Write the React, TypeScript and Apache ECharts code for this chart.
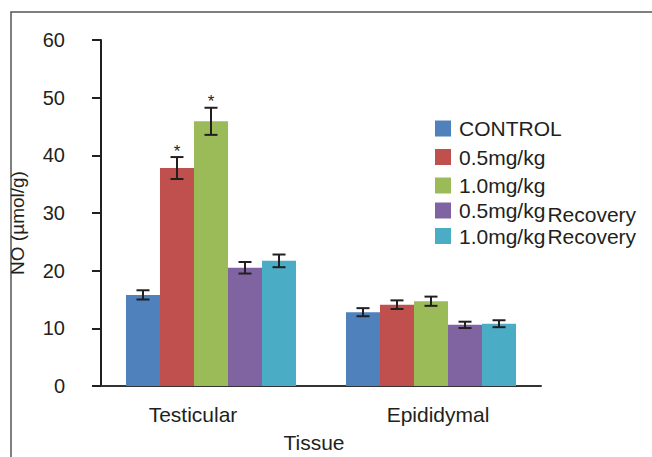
import React, { useEffect, useRef } from "react";
import * as echarts from "echarts";

const categories = ["Testicular", "Epididymal"];
const seriesNames = ["CONTROL", "0.5mg/kg", "1.0mg/kg", "0.5mg/kg Recovery", "1.0mg/kg Recovery"];
const controlValues = [15.8, 12.8];
const controlErrors = [0.8, 0.7];
const dose05Values = [37.8, 14.1];
const dose05Errors = [1.9, 0.75];
const dose10Values = [45.9, 14.7];
const dose10Errors = [2.35, 0.8];
const recovery05Values = [20.5, 10.6];
const recovery05Errors = [1.0, 0.55];
const recovery10Values = [21.7, 10.8];
const recovery10Errors = [1.1, 0.6];
const controlSig = ["", ""];
const dose05Sig = ["*", ""];
const dose10Sig = ["*", ""];
const recovery05Sig = ["", ""];
const recovery10Sig = ["", ""];
const yTicks = [0, 10, 20, 30, 40, 50, 60];

const colors = ["#4F81BD", "#C0504D", "#9BBB59", "#8064A2", "#4BACC6"];
const FONT = "'Liberation Sans', Arial, sans-serif";
const TEXT = "#231f20";
const CAT_GAP = 0.227;

export default function App() {
  const ref = useRef<HTMLDivElement>(null);
  useEffect(() => {
    if (!ref.current) return;
    const chart = echarts.init(ref.current, null, { renderer: "svg" });
    const values = [controlValues, dose05Values, dose10Values, recovery05Values, recovery10Values];
    const errors = [controlErrors, dose05Errors, dose10Errors, recovery05Errors, recovery10Errors];
    const sigs = [controlSig, dose05Sig, dose10Sig, recovery05Sig, recovery10Sig];
    const n = values.length;

    const barSeries = values.map((vals, i) => ({
      name: seriesNames[i],
      type: "bar",
      data: vals,
      barGap: "0%",
      barCategoryGap: CAT_GAP * 100 + "%",
      itemStyle: { color: colors[i] },
    }));

    const errSeries = values.map((vals, i) => ({
      type: "custom",
      name: seriesNames[i] + " err",
      z: 10,
      data: vals.map((v, k) => [k, v - errors[i][k], v + errors[i][k], sigs[i][k]]),
      renderItem: (params: any, api: any) => {
        const cat = api.value(0);
        const lo = api.coord([cat, api.value(1)]);
        const hi = api.coord([cat, api.value(2)]);
        const band = api.size([1, 0])[0];
        const bw = (band * (1 - CAT_GAP)) / n;
        const x = lo[0] + (i - (n - 1) / 2) * bw;
        const cap = 6.5;
        const style = { stroke: TEXT, lineWidth: 2 };
        const children: any[] = [
          { type: "line", shape: { x1: x, y1: hi[1], x2: x, y2: lo[1] }, style },
          { type: "line", shape: { x1: x - cap, y1: hi[1], x2: x + cap, y2: hi[1] }, style },
          { type: "line", shape: { x1: x - cap, y1: lo[1], x2: x + cap, y2: lo[1] }, style },
        ];
        const s = sigs[i][cat];
        if (s) {
          children.push({
            type: "text",
            style: {
              text: s,
              x: x,
              y: hi[1] - 6,
              align: "center",
              verticalAlign: "middle",
              fill: TEXT,
              font: "17px " + FONT,
            },
          });
        }
        return { type: "group", children };
      },
      tooltip: { show: false },
    }));

    const legendText = {
      fontFamily: FONT,
      fontSize: 21,
      lineHeight: 21,
      color: TEXT,
      padding: [0, 0, 0, 3],
      rich: {
        r: { fontFamily: FONT, fontSize: 21, lineHeight: 21, color: TEXT, padding: [8, 0, 0, 2] },
        r2: { fontFamily: FONT, fontSize: 21, lineHeight: 21, color: TEXT, padding: [1, 0, 0, 2] },
      },
    };

    chart.setOption({
      animation: false,
      backgroundColor: "#ffffff",
      textStyle: { fontFamily: FONT },
      graphic: [
        {
          type: "rect",
          shape: { x: 11, y: 12, width: 700, height: 500 },
          style: { fill: "none", stroke: "#555555", lineWidth: 1.5 },
          silent: true,
        },
      ],
      grid: {
        left: 101,
        right: 111,
        top: 40,
        bottom: 71,
        containLabel: false,
        outerBoundsMode: "none",
      },
      legend: [
        {
          data: seriesNames.slice(0, 3),
          orient: "vertical",
          left: 430,
          top: 113,
          itemWidth: 16,
          itemHeight: 16,
          itemGap: 7.5,
          icon: "rect",
          textStyle: legendText,
        },
        {
          data: seriesNames.slice(3),
          orient: "vertical",
          left: 430,
          top: 191,
          itemWidth: 16,
          itemHeight: 16,
          itemGap: 0,
          icon: "rect",
          textStyle: legendText,
          formatter: (name: string) =>
            name.startsWith("0.5")
              ? name.replace(" Recovery", "{r|Recovery}")
              : name.replace(" Recovery", "{r2|Recovery}"),
        },
      ],
      xAxis: {
        type: "category",
        data: categories,
        name: "Tissue",
        nameLocation: "middle",
        nameGap: 46,
        nameTextStyle: { fontFamily: FONT, fontSize: 21, color: TEXT, padding: [0, 14, 0, 0] },
        axisLine: { lineStyle: { color: "#333333", width: 2 } },
        axisTick: { show: false },
        axisLabel: {
          margin: 18,
          fontFamily: FONT,
          fontSize: 21,
          color: TEXT,
          formatter: (v: string) => (v === "Testicular" ? "{t|" + v + "}" : "{e|" + v + "}"),
          rich: {
            t: { fontFamily: FONT, fontSize: 21, color: TEXT, padding: [0, 36, 0, 0] },
            e: { fontFamily: FONT, fontSize: 21, color: TEXT, padding: [0, 0, 0, 14] },
          },
        },
      },
      yAxis: {
        type: "value",
        min: yTicks[0],
        max: yTicks[yTicks.length - 1],
        interval: 10,
        name: "NO (µmol/g)",
        nameLocation: "middle",
        nameRotate: 90,
        nameGap: 74,
        nameTextStyle: { fontFamily: FONT, fontSize: 19, color: TEXT, padding: [0, 20, 0, 0] },
        axisLine: { show: true, lineStyle: { color: TEXT, width: 2 } },
        axisTick: { show: true, length: 9, lineStyle: { color: TEXT, width: 2 } },
        axisLabel: { margin: 36, fontFamily: FONT, fontSize: 20, color: TEXT },
        splitLine: { show: false },
      },
      series: [...barSeries, ...errSeries],
    });
    return () => chart.dispose();
  }, []);
  return (
    <div
      ref={ref}
      style={{ position: "absolute", left: 0, top: 0, width: 652, height: 457 }}
    />
  );
}
